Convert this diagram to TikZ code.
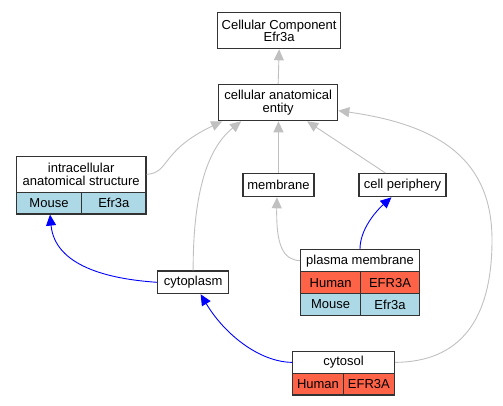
\documentclass[tikz,border=0pt]{standalone}
\usepackage{fontspec}
\setmainfont{Liberation Sans}
\usepackage{tikz}
\usetikzlibrary{calc}
\usetikzlibrary{arrows.meta}
\definecolor{tomato}{HTML}{FF6347}
\definecolor{lightblue}{HTML}{ADD8E6}
\definecolor{silver}{HTML}{C0C0C0}
\tikzset{
 term/.style={draw=black!80, line width=1.3pt, fill=white, align=center, inner sep=0pt, anchor=north west},
 human/.style={term, fill=tomato},
 mouse/.style={term, fill=lightblue},
 isa/.style={draw=silver, line width=0.9pt, -{Triangle[length=11pt,width=10pt]}},
 partof/.style={isa, draw=blue}
}

\begin{document}
\begin{tikzpicture}[x=1pt, y=-1pt, font=\fontsize{13}{12.5}\selectfont]
\useasboundingbox (0,0) rectangle (503,405);
% terms
\node[term, minimum width=123pt, minimum height=36pt] (top) at (217,12) {Cellular Component\\Efr3a};
\node[term, minimum width=119pt, minimum height=36pt] (cae) at (218,84) {cellular anatomical\\entity};
\node[term, minimum width=129.6pt, minimum height=36pt] (intra) at (15.7,155.7) {intracellular\\anatomical structure};
\node[mouse, minimum width=65.3pt, minimum height=21.6pt] (intraMm) at (15.7,191.7) {Mouse};
\node[mouse, minimum width=64.3pt, minimum height=21.6pt] (intraMmGene) at (81,191.7) {Efr3a};
\node[term, minimum width=71pt, minimum height=23pt] (mem) at (242.3,173) {membrane};
\node[term, minimum width=87pt, minimum height=23pt] (cp) at (358.3,173) {cell periphery};
\node[term, minimum width=118.7pt, minimum height=22pt] (pm) at (300,249) {plasma membrane};
\node[human, minimum width=60pt, minimum height=22pt] (pmHs) at (300,271) {Human};
\node[human, minimum width=58.7pt, minimum height=22pt] (pmHsGene) at (360,271) {EFR3A};
\node[mouse, minimum width=60pt, minimum height=21.7pt] (pmMm) at (300,293) {Mouse};
\node[mouse, minimum width=58.7pt, minimum height=21.7pt] (pmMmGene) at (360,293) {Efr3a};
\node[term, minimum width=71pt, minimum height=22.7pt] (cyto) at (157,270.3) {cytoplasm};
\node[term, minimum width=101.7pt, minimum height=22pt] (cs) at (292,350.7) {cytosol};
\node[human, minimum width=50.7pt, minimum height=21.6pt] (csHs) at (292,372.7) {Human};
\node[human, minimum width=51pt, minimum height=21.6pt] (csHsGene) at (342.7,372.7) {EFR3A};
% is_a
\draw[isa] (cae.north) -- (top.south);
\draw[isa] (intra.east) .. controls (170,173) and (160,151) .. ($(cae.south)+(-56,0)$);
\draw[isa] (cyto.north) .. controls (193,200) and (205,150) .. ($(cae.south)+(-37,0)$);
\draw[isa] (mem.north) -- (mem.north |- cae.south);
\draw[isa] ($(cp.north)+(-17,0)$) -- ($(cae.south)+(29,0)$);
\draw[isa] (cs.east) .. controls (460,362) and (492,320) .. (492,240)
 .. controls (492,160) and (440,125) .. ($(cae.east)+(0,8)$);
\draw[isa] (pm.west) .. controls (283,260) and (276,245) .. ($(mem.south)+(-1.5,0)$);
% part_of
\draw[partof] (pm.north) .. controls (360,230) and (375,212) .. ($(cp.south)+(-11,0)$);
\draw[partof] (cyto.west) .. controls (108,279) and (55,266) .. ($(intraMm.south)+(1,0)$);
\draw[partof] (cs.west) .. controls (260,362) and (225,335) .. ($(cyto.south)+(7.5,0)$);
\end{tikzpicture}
\end{document}
